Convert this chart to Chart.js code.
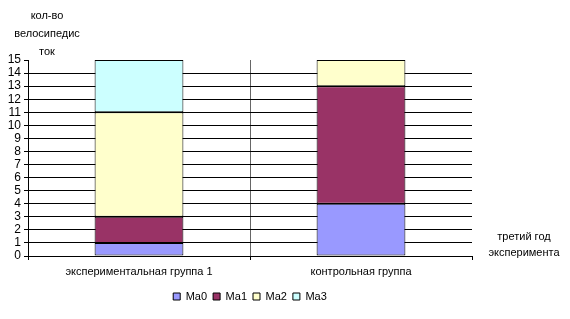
<!DOCTYPE html>
<html>
<head>
<meta charset="utf-8">
<script src="https://cdn.jsdelivr.net/npm/chart.js@4/dist/chart.umd.min.js"></script>
<style>
  html, body { margin: 0; padding: 0; background: #fff; }
  #wrap { width: 570px; height: 319px; position: relative; }
</style>
</head>
<body>
<div id="wrap"><canvas id="barChart"></canvas></div>
<script>
const categories = ["экспериментальная группа 1", "контрольная группа"];
const seriesNames = ["Ma0", "Ma1", "Ma2", "Ma3"];
const ma0 = [1, 4];
const ma1 = [2, 9];
const ma2 = [8, 2];
const ma3 = [4, 0];
const yTitle = ["кол-во", "велосипедис", "ток"];
const xTitle = ["третий год", "эксперимента"];

const colors = ["#9999FF", "#993366", "#FFFFCC", "#CCFFFF"];
const FONT = "'Liberation Sans', Arial, sans-serif";

Chart.defaults.font.family = FONT;
Chart.defaults.color = "#000";

// подписи осей рисуем сами
const axisTitles = {
    id: "axisTitles",
    afterDraw(chart) {
        const { ctx } = chart;
        ctx.save();
        ctx.fillStyle = "#000";
        ctx.font = "11px " + FONT;
        ctx.textAlign = "center";
        ctx.textBaseline = "middle";
        yTitle.forEach((t, i) => ctx.fillText(t, 47, 16 + i * 18));
        xTitle.forEach((t, i) => ctx.fillText(t, 524, 237 + i * 16));
        ctx.restore();
    },
};

const data = [ma0, ma1, ma2, ma3];

new Chart(document.getElementById("barChart").getContext("2d"), {
    type: "bar",
    data: {
        labels: categories,
        datasets: seriesNames.map((name, i) => ({
            label: name,
            data: data[i],
            backgroundColor: colors[i],
            borderColor: "#000",
            borderWidth: 1,
            borderSkipped: false,
            barPercentage: 0.4,
            categoryPercentage: 1.0,
        })),
    },
    options: {
        responsive: true,
        maintainAspectRatio: false,
        animation: false,
        layout: { padding: { top: 60, right: 98, left: 0, bottom: 7 } },
        plugins: {
            tooltip: { enabled: false },
            legend: {
                position: "bottom",
                fullSize: false,
                labels: {
                    boxWidth: 7,
                    boxHeight: 7,
                    padding: 6,
                    font: { size: 11 },
                    color: "#000",
                },
            },
        },
        scales: {
            x: {
                stacked: true,
                afterFit: (s) => { s.height = 29; },
                grid: {
                    offset: true,
                    color: (c) => (c.index === 1 ? "#666" : "rgba(0,0,0,0)"),
                    tickColor: "#000",
                    tickLength: 4,
                    lineWidth: 1,
                },
                border: { color: "#000" },
                ticks: { font: { size: 11 }, color: "#000", padding: 5 },
            },
            y: {
                stacked: true,
                min: 0,
                max: 15,
                afterFit: (s) => { s.width = 28; },
                ticks: { stepSize: 1, autoSkip: false, font: { size: 12 }, color: "#000", padding: 3 },
                grid: {
                    color: (c) => (c.tick && c.tick.value === 15 ? "rgba(0,0,0,0)" : "#000"),
                    tickColor: "#000",
                    tickLength: 4,
                },
                border: { color: "#000" },
            },
        },
    },
    plugins: [axisTitles],
});
</script>
</body>
</html>
